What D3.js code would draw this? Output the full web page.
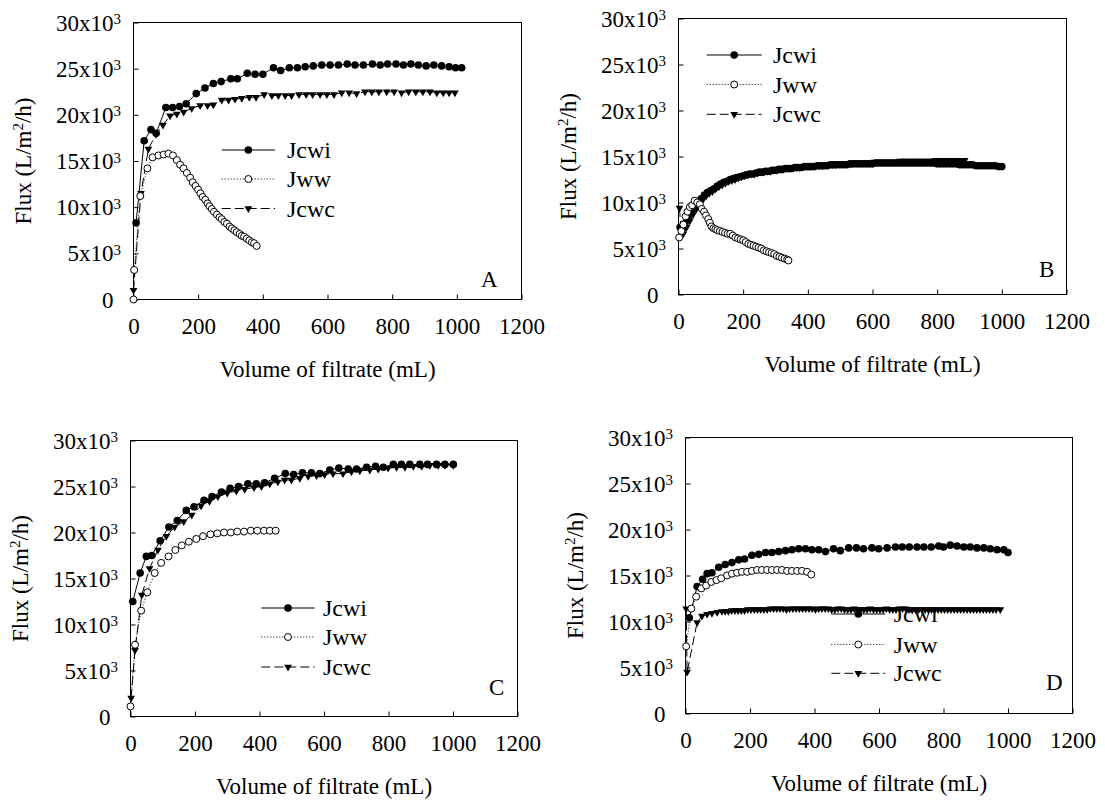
<!DOCTYPE html>
<html><head><meta charset="utf-8">
<script src="https://cdn.jsdelivr.net/npm/d3@7"></script>
<style>
body{margin:0;background:#fff;}
svg{display:block;}
svg text{font-family:"Liberation Serif","Times New Roman",Times,"DejaVu Serif",serif;fill:#000;}
</style></head><body>
<svg id="chart" width="1105" height="801" font-family="Liberation Serif, Times New Roman, serif"></svg>
<script>
// ---------- DATA (volume of filtrate mL, flux in 10^3 L/m2/h) ----------
const xTicks=[0,200,400,600,800,1000,1200];
const yTicks=[0,5,10,15,20,25,30];
const seriesNames=["Jcwi","Jww","Jcwc"];
const panelLabels=["A","B","C","D"];
const xTitle="Volume of filtrate (mL)";

const A_Jcwi=[[8,8.3],[33,17.2],[54,18.4],[70,18.0],[100,20.8],[121,20.8],[142,20.9],[163,21.2],[194,22.3],[221,22.9],[247,23.4],[271,23.6],[301,23.9],[321,23.9],[352,24.5],[376,24.4],[400,24.4],[433,25.1],[455,24.8],[482,25.1],[507,25.1],[531,25.2],[556,25.3],[582,25.4],[608,25.4],[634,25.4],[661,25.5],[685,25.4],[711,25.4],[739,25.5],[763,25.4],[786,25.5],[812,25.5],[835,25.4],[858,25.5],[881,25.4],[905,25.3],[929,25.4],[953,25.3],[976,25.2],[996,25.1],[1015,25.1]];
const A_Jww=[[0,0],[2,3.2],[21,11.2],[43,14.2],[59,15.4],[77,15.6],[93,15.7],[108,15.8],[122,15.6],[134,15.1],[144,14.6],[155,14.2],[165,13.7],[175,13.2],[183,12.7],[192,12.3],[200,11.9],[207,11.5],[214,11.1],[222,10.8],[229,10.4],[235,10.1],[242,9.8],[249,9.5],[258,9.2],[266,8.9],[273,8.7],[281,8.4],[289,8.2],[297,7.9],[304,7.7],[312,7.5],[319,7.3],[328,7.1],[335,6.9],[342,6.8],[350,6.6],[358,6.4],[366,6.2],[373,6.1],[381,5.8]];
const A_Jcwc=[[0,1.0],[23,11.5],[46,16.3],[70,17.9],[91,18.9],[113,19.9],[134,20.1],[155,20.3],[180,20.7],[206,21.0],[229,21.0],[247,21.1],[273,21.6],[294,21.6],[314,21.7],[335,21.8],[358,21.9],[379,21.9],[404,22.2],[428,22.1],[448,22.1],[469,22.1],[489,22.1],[512,22.2],[534,22.2],[554,22.2],[577,22.2],[598,22.2],[620,22.2],[644,22.4],[667,22.4],[690,22.3],[716,22.5],[737,22.5],[759,22.5],[783,22.5],[806,22.5],[829,22.4],[851,22.5],[873,22.5],[895,22.5],[917,22.5],[938,22.4],[958,22.4],[976,22.4],[994,22.4]];

const B_Jcwi=[[5,7.3],[10,7.0],[20,7.7],[30,8.3],[40,8.9],[50,9.5],[60,10.0],[70,10.4],[80,10.8],[90,11.1],[100,11.3],[110,11.5],[120,11.8],[130,12.0],[140,12.2],[150,12.3],[160,12.5],[170,12.6],[180,12.7],[190,12.8],[200,12.9],[210,13.0],[220,13.1],[230,13.1],[240,13.2],[250,13.3],[260,13.3],[270,13.4],[280,13.4],[290,13.5],[300,13.5],[310,13.6],[320,13.6],[330,13.7],[340,13.7],[350,13.7],[360,13.8],[370,13.8],[380,13.8],[390,13.9],[400,13.9],[410,13.9],[420,13.9],[430,14.0],[440,14.0],[450,14.0],[460,14.0],[470,14.1],[480,14.1],[490,14.1],[500,14.1],[510,14.1],[520,14.1],[530,14.2],[540,14.2],[550,14.2],[560,14.2],[570,14.2],[580,14.2],[590,14.2],[600,14.2],[610,14.3],[620,14.3],[630,14.3],[640,14.3],[650,14.3],[660,14.3],[670,14.3],[680,14.3],[690,14.3],[700,14.3],[710,14.3],[720,14.3],[730,14.3],[740,14.3],[750,14.3],[760,14.3],[770,14.3],[780,14.3],[790,14.3],[800,14.2],[810,14.2],[820,14.2],[830,14.2],[840,14.2],[850,14.2],[860,14.2],[870,14.1],[880,14.1],[890,14.1],[900,14.1],[910,14.1],[920,14.0],[930,14.0],[940,14.0],[950,14.0],[960,14.0],[970,14.0],[980,14.0],[990,13.9],[1000,13.9]];
const B_Jww=[[2,6.2],[9,6.9],[15,7.6],[22,8.5],[28,9.0],[35,9.5],[42,9.7],[50,10.2],[58,10.0],[66,9.8],[72,9.3],[79,9.0],[85,8.6],[92,8.2],[97,7.8],[102,7.4],[108,7.2],[114,7.1],[120,7.0],[128,6.9],[136,6.8],[144,6.7],[152,6.6],[160,6.6],[168,6.4],[176,6.2],[184,6.1],[192,6.0],[200,5.9],[208,5.7],[216,5.5],[224,5.4],[232,5.3],[240,5.2],[248,5.1],[256,5.0],[264,4.8],[272,4.7],[280,4.6],[288,4.5],[296,4.4],[304,4.2],[312,4.1],[320,4.0],[328,3.9],[336,3.8],[340,3.7]];
const B_Jcwc=[[3,9.4],[8,7.0],[15,6.6],[25,7.3],[35,8.0],[45,8.7],[55,9.3],[65,9.8],[75,10.3],[85,10.7],[95,11.0],[105,11.2],[115,11.5],[125,11.7],[135,11.9],[145,12.1],[155,12.3],[165,12.4],[175,12.5],[185,12.7],[195,12.8],[205,12.9],[215,13.0],[225,13.1],[235,13.1],[245,13.2],[255,13.3],[265,13.3],[275,13.4],[285,13.4],[295,13.5],[305,13.5],[315,13.6],[325,13.6],[335,13.7],[345,13.7],[355,13.8],[365,13.8],[375,13.8],[385,13.9],[395,13.9],[405,13.9],[415,14.0],[425,14.0],[435,14.0],[445,14.0],[455,14.1],[465,14.1],[475,14.1],[485,14.1],[495,14.2],[505,14.2],[515,14.2],[525,14.2],[535,14.2],[545,14.3],[555,14.3],[565,14.3],[575,14.3],[585,14.3],[595,14.3],[605,14.4],[615,14.4],[625,14.4],[635,14.4],[645,14.4],[655,14.4],[665,14.4],[675,14.4],[685,14.5],[695,14.5],[705,14.5],[715,14.5],[725,14.5],[735,14.5],[745,14.5],[755,14.5],[765,14.5],[775,14.5],[785,14.5],[795,14.6],[805,14.6],[815,14.6],[825,14.6],[835,14.6],[845,14.6],[855,14.6],[865,14.6],[875,14.6],[885,14.6]];

const C_Jcwi=[[7,12.5],[30,15.6],[49,17.4],[66,17.5],[92,19.1],[119,20.6],[145,21.3],[173,22.4],[197,22.8],[228,23.5],[253,23.9],[282,24.4],[309,24.8],[335,25.0],[364,25.3],[390,25.3],[416,25.4],[447,25.9],[480,26.4],[506,26.3],[533,26.5],[561,26.5],[587,26.4],[618,26.8],[646,27.0],[675,26.9],[701,26.9],[732,27.1],[760,27.2],[784,27.1],[815,27.4],[840,27.4],[866,27.4],[897,27.4],[921,27.4],[949,27.4],[975,27.4],[1001,27.4]];
const C_Jww=[[0,1.1],[14,7.8],[33,11.5],[52,13.5],[75,15.6],[95,16.7],[118,17.4],[139,18.1],[159,18.6],[181,19.0],[204,19.3],[225,19.6],[248,19.8],[269,19.9],[290,20.0],[311,20.0],[331,20.1],[352,20.1],[373,20.2],[393,20.2],[414,20.2],[432,20.2],[450,20.2]];
const C_Jcwc=[[2,2.0],[14,7.2],[35,13.2],[59,16.1],[85,18.1],[111,19.6],[137,20.6],[165,21.2],[190,21.9],[219,22.9],[245,23.4],[271,23.9],[300,24.3],[328,24.5],[354,24.7],[383,24.9],[406,25.0],[432,25.3],[457,25.5],[478,25.7],[499,25.7],[525,25.9],[551,26.1],[577,26.2],[602,26.3],[628,26.4],[659,26.4],[685,26.6],[711,26.7],[742,26.8],[768,26.9],[799,27.0],[825,27.1],[851,27.1],[877,27.2],[903,27.2],[928,27.3],[954,27.3],[975,27.3],[1001,27.3]];

const D_Jcwi=[[12,10.4],[36,13.8],[53,14.6],[67,15.2],[82,15.3],[103,15.9],[123,16.2],[144,16.4],[165,16.7],[183,16.8],[206,17.2],[227,17.3],[248,17.5],[268,17.5],[289,17.6],[310,17.7],[330,17.8],[351,17.9],[372,17.9],[392,17.8],[413,17.8],[434,17.6],[459,17.9],[480,17.7],[506,18.0],[530,18.0],[552,17.9],[578,18.0],[599,17.9],[625,18.0],[651,18.1],[672,18.1],[694,18.1],[718,18.1],[739,18.1],[762,18.1],[785,18.2],[800,18.1],[821,18.3],[842,18.2],[863,18.1],[883,18.1],[904,18.0],[925,18.0],[945,17.9],[966,17.8],[987,17.8],[1000,17.5]];
const D_Jww=[[2,7.3],[18,11.4],[33,12.7],[49,13.6],[64,13.9],[80,14.3],[96,14.5],[111,14.7],[129,15.0],[144,15.2],[160,15.3],[175,15.4],[191,15.4],[206,15.5],[222,15.6],[237,15.6],[253,15.6],[268,15.6],[284,15.6],[299,15.6],[315,15.5],[330,15.5],[346,15.5],[361,15.5],[377,15.4],[390,15.1]];
const D_Jcwc=[[2,11.4],[5,4.5],[36,9.9],[51,10.6],[67,10.8],[82,10.9],[98,11.0],[113,11.1],[123,11.1],[133,11.1],[143,11.2],[153,11.2],[163,11.2],[173,11.2],[183,11.2],[193,11.3],[203,11.3],[213,11.3],[223,11.3],[233,11.3],[243,11.3],[253,11.3],[263,11.4],[273,11.4],[283,11.4],[293,11.4],[303,11.4],[313,11.3],[323,11.4],[333,11.4],[343,11.4],[353,11.4],[363,11.4],[373,11.4],[383,11.4],[393,11.4],[403,11.3],[413,11.4],[423,11.4],[433,11.4],[443,11.4],[453,11.3],[463,11.3],[473,11.4],[483,11.4],[493,11.3],[503,11.3],[513,11.3],[523,11.4],[533,11.3],[543,11.3],[553,11.3],[563,11.3],[573,11.4],[583,11.3],[593,11.3],[603,11.3],[613,11.3],[623,11.4],[633,11.3],[643,11.3],[653,11.3],[663,11.4],[673,11.4],[683,11.4],[693,11.3],[703,11.3],[713,11.3],[723,11.3],[733,11.3],[743,11.3],[753,11.3],[763,11.3],[773,11.3],[783,11.3],[793,11.3],[803,11.3],[813,11.3],[823,11.3],[833,11.3],[843,11.3],[853,11.3],[863,11.3],[873,11.3],[883,11.3],[893,11.3],[903,11.3],[913,11.3],[923,11.3],[933,11.3],[943,11.3],[953,11.3],[963,11.3],[976,11.3]];

// ---------- LAYOUT ----------
const panels=[
 {label:"A",left:133.5,top:22.5,w:388,h:277,data:[A_Jcwi,A_Jww,A_Jcwc],leg:{x0:221.7,x1:275,rows:[150,179,208.5],tx:287},lab:{x:481,y:287}},
 {label:"B",left:678.5,top:18.5,w:388,h:276,data:[B_Jcwi,B_Jww,B_Jcwc],leg:{x0:706.7,x1:761.7,rows:[55,84.5,114.3],tx:773},lab:{x:1039,y:277}},
 {label:"C",left:130.5,top:440.5,w:387,h:276,data:[C_Jcwi,C_Jww,C_Jcwc],leg:{x0:261.3,x1:314.7,rows:[608,637,667],tx:323},lab:{x:489,y:695}},
 {label:"D",left:685.5,top:437.5,w:387,h:276,data:[D_Jcwi,D_Jww,D_Jcwc],leg:{x0:831.3,x1:885.3,rows:[614,644.5,673.3],tx:893.7},lab:{x:1046,y:690}}
];
const dashes=[null,"1,2","9,4"];
const FONT='"Liberation Serif", "Times New Roman", Times, "DejaVu Serif", serif';
const svg=d3.select("#chart").style("font-family",FONT);

function marker(sel,type){
  if(type===0){
    sel.append("circle").attr("r",3.8).attr("fill","#000");
  }else if(type===1){
    sel.append("circle").attr("r",3.5).attr("fill","#fff").attr("stroke","#000").attr("stroke-width",1);
  }else{
    sel.append("path").attr("d",d3.symbol(d3.symbolTriangle,26)()).attr("transform","rotate(180)").attr("fill","#000");
  }
}
function txt(sel,size){return sel.style("font-family",FONT).style("font-size",size+"px").attr("fill","#000");}

panels.forEach(p=>{
  const x=d3.scaleLinear().domain([0,1200]).range([p.left,p.left+p.w]);
  const y=d3.scaleLinear().domain([0,30]).range([p.top+p.h,p.top]);
  const g=svg.append("g");

  // axes
  const xa=g.append("g").attr("transform",`translate(0,${p.top+p.h})`)
    .call(d3.axisBottom(x).tickValues(xTicks).tickSize(-5).tickSizeOuter(0).tickFormat(d3.format("d")));
  xa.attr("font-family",null).attr("font-size",null);
  xa.select(".domain").remove();
  xa.selectAll(".tick line").attr("stroke","#000");
  txt(xa.selectAll(".tick text").attr("y",34).attr("dy",0),23);

  const ya=g.append("g").attr("transform",`translate(${p.left},0)`)
    .call(d3.axisLeft(y).tickValues(yTicks).tickSize(-5).tickSizeOuter(0).tickFormat(d=>d===0?"0":d+"x10"));
  ya.attr("font-family",null).attr("font-size",null);
  ya.select(".domain").remove();
  ya.selectAll(".tick line").attr("stroke","#000");
  txt(ya.selectAll(".tick text").attr("x",-20).attr("dy","0.33em"),23);
  txt(ya.selectAll(".tick").filter(d=>d>0).append("text").attr("x",-20).attr("y",1)
    .attr("text-anchor","start").text("3"),15);

  // frame
  g.append("rect").attr("x",p.left).attr("y",p.top).attr("width",p.w).attr("height",p.h)
    .attr("fill","none").attr("stroke","#000").attr("stroke-width",1);

  // titles
  txt(g.append("text").attr("x",p.left+p.w/2).attr("y",p.top+p.h+77).attr("text-anchor","middle").text(xTitle),23);
  const yt=txt(g.append("text").attr("transform",`translate(${p.left-103},${p.top+p.h/2}) rotate(-90)`)
    .attr("text-anchor","middle"),23);
  yt.append("tspan").text("Flux (L/m");
  yt.append("tspan").attr("dy",-8).style("font-size","15px").text("2");
  yt.append("tspan").attr("dy",8).text("/h)");

  // panel label
  txt(g.append("text").attr("x",p.lab.x).attr("y",p.lab.y).text(p.label),23);

  // legend (drawn beneath the data)
  const lg=g.append("g");
  seriesNames.forEach((nm,i)=>{
    const ry=p.leg.rows[i];
    lg.append("line").attr("x1",p.leg.x0).attr("x2",p.leg.x1).attr("y1",ry).attr("y2",ry)
      .attr("stroke","#000").attr("stroke-width",1).attr("stroke-dasharray",dashes[i]);
    const m=lg.append("g").attr("transform",`translate(${(p.leg.x0+p.leg.x1)/2},${ry})`);
    marker(m,i);
    txt(lg.append("text").attr("x",p.leg.tx).attr("y",ry+8).text(nm),24);
  });

  // data series: draw order Jcwc, Jcwi, Jww
  const line=d3.line().x(d=>x(d[0])).y(d=>y(d[1]));
  [2,0,1].forEach(i=>{
    const ser=p.data[i];
    g.append("path").datum(ser).attr("d",line).attr("fill","none")
      .attr("stroke","#000").attr("stroke-width",1).attr("stroke-dasharray",dashes[i]);
    const mk=g.append("g").selectAll("g").data(ser).join("g")
      .attr("transform",d=>`translate(${x(d[0])},${y(d[1])})`);
    mk.each(function(){marker(d3.select(this),i);});
  });
});
</script>
</body></html>
